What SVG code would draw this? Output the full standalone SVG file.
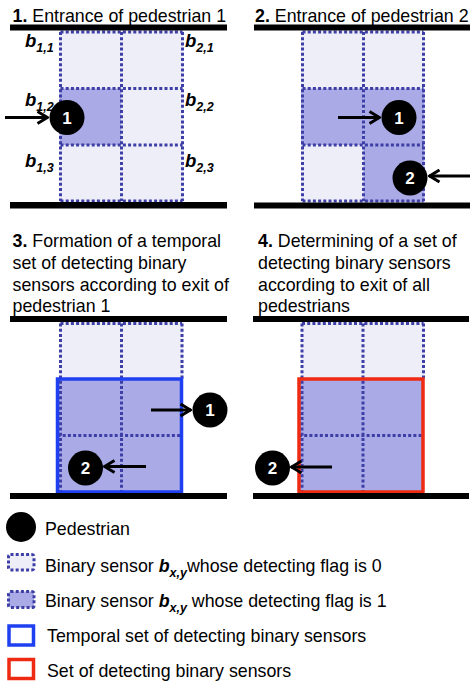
<svg xmlns="http://www.w3.org/2000/svg" width="474" height="689" viewBox="0 0 474 689">
<defs>
<style>
text{font-family:"Liberation Sans",Arial,sans-serif;fill:#000}
.t{font-size:17.8px}
.lg{font-size:17.8px}
.b{font-weight:bold}
.bi{font-weight:bold;font-style:italic}
.lab{font-size:18.5px;font-weight:bold;font-style:italic}
.sub{font-size:12.5px;font-weight:bold;font-style:italic}
.off{fill:#eeeef8}
.on{fill:#a9aae6}
.grid{fill:none;stroke:#3d3fa6;stroke-width:3;stroke-dasharray:3 2.2}
.bar{fill:#000}
.ped{fill:#000}
.pn{fill:#fff;font-size:17px;font-weight:bold;text-anchor:middle}
.arr{stroke:#000;stroke-width:3;fill:none;marker-end:url(#ah)}
.blue{fill:none;stroke:#1f40f0;stroke-width:3.5}
.red{fill:none;stroke:#ee2a12;stroke-width:3.5}
</style>
<marker id="ah" viewBox="0 0 13 15" refX="12" refY="7.5" markerWidth="13" markerHeight="15" markerUnits="userSpaceOnUse" orient="auto">
<path d="M1.5,1.5 L11.5,7.5 L1.5,13.5" fill="none" stroke="#000" stroke-width="3"/>
</marker>
</defs>
<rect width="474" height="689" fill="#fff"/>

<!-- Panel 1 -->
<g id="panel1">
<text class="t" x="12.5" y="21.5"><tspan class="b">1.</tspan> Entrance of pedestrian 1</text>
<rect class="off" x="59.5" y="30" width="62" height="58.5"/>
<rect class="off" x="121.5" y="30" width="62" height="58.5"/>
<rect class="on" x="59.5" y="88.5" width="62" height="56.5"/>
<rect class="off" x="121.5" y="88.5" width="62" height="56.5"/>
<rect class="off" x="59.5" y="145" width="62" height="57"/>
<rect class="off" x="121.5" y="145" width="62" height="57"/>
<path class="grid" d="M60.5,32 V201 M121.5,32 V201 M182.5,32 V201 M60.5,32 H182.5 M60.5,88.5 H182.5 M60.5,145 H182.5 M60.5,201 H182.5"/>
<rect class="bar" x="10" y="24.5" width="217" height="6"/>
<rect class="bar" x="10" y="202" width="217" height="6.5"/>
<g id="labels1">
<text x="25" y="46.5"><tspan class="lab">b</tspan><tspan class="sub" dy="5">1,1</tspan></text>
<text x="185" y="46.5"><tspan class="lab">b</tspan><tspan class="sub" dy="5">2,1</tspan></text>
<text x="25" y="106"><tspan class="lab">b</tspan><tspan class="sub" dy="5">1,2</tspan></text>
<text x="185" y="106"><tspan class="lab">b</tspan><tspan class="sub" dy="5">2,2</tspan></text>
<text x="25" y="167"><tspan class="lab">b</tspan><tspan class="sub" dy="5">1,3</tspan></text>
<text x="185" y="167"><tspan class="lab">b</tspan><tspan class="sub" dy="5">2,3</tspan></text>
</g>
<g id="p1-ped1"><circle class="ped" cx="67" cy="117.5" r="17.5"/><text class="pn" x="67" y="123.5">1</text></g>
</g>

<!-- Panel 2 -->
<g id="panel2">
<text class="t" x="255" y="21.5"><tspan class="b">2.</tspan> Entrance of pedestrian 2</text>
<rect class="off" x="301" y="30" width="62.5" height="58.5"/>
<rect class="off" x="363.5" y="30" width="61" height="58.5"/>
<rect class="on" x="301" y="88.5" width="62.5" height="56.5"/>
<rect class="on" x="363.5" y="88.5" width="61" height="56.5"/>
<rect class="off" x="301" y="145" width="62.5" height="57"/>
<rect class="on" x="363.5" y="145" width="61" height="57"/>
<path class="grid" d="M302.5,32 V201 M363.5,32 V201 M423.5,32 V201 M302.5,32 H423.5 M302.5,88.5 H423.5 M302.5,145 H423.5 M302.5,201 H423.5"/>
<rect class="bar" x="254" y="24.5" width="216" height="6"/>
<rect class="bar" x="254" y="202.5" width="216" height="6"/>
<g id="p2-ped1"><circle class="ped" cx="399" cy="117.5" r="17.5"/><text class="pn" x="399" y="123.5">1</text></g>
<g id="p2-ped2"><circle class="ped" cx="410" cy="178" r="17.5"/><text class="pn" x="410" y="184">2</text></g>
</g>

<!-- Panel 3 -->
<g id="panel3">
<text class="t" x="12.5" y="247"><tspan class="b">3.</tspan> Formation of a temporal</text>
<text class="t" x="12.5" y="269">set of detecting binary</text>
<text class="t" x="12.5" y="290.5">sensors according to exit of</text>
<text class="t" x="12.5" y="312">pedestrian 1</text>
<rect class="off" x="59.5" y="322" width="62" height="57"/>
<rect class="off" x="121.5" y="322" width="62" height="57"/>
<rect class="on" x="57.5" y="379" width="124" height="113"/>
<path class="grid" d="M60.5,323.5 V492 M121.5,323.5 V492 M182,323.5 V379 M60.5,323.5 H182 M57.5,435.5 H181.5"/>
<rect class="blue" x="57.5" y="379" width="124" height="113"/>
<rect class="bar" x="10" y="316" width="217" height="6"/>
<rect class="bar" x="10" y="493" width="217" height="6"/>
<g id="p3-ped1"><circle class="ped" cx="210" cy="410" r="17.5"/><text class="pn" x="210" y="416">1</text></g>
<g id="p3-ped2"><circle class="ped" cx="85.5" cy="468" r="17.5"/><text class="pn" x="85.5" y="474">2</text></g>
</g>

<!-- Panel 4 -->
<g id="panel4">
<text class="t" x="258" y="247"><tspan class="b">4.</tspan> Determining of a set of</text>
<text class="t" x="258" y="269">detecting binary sensors</text>
<text class="t" x="258" y="290.5">according to exit of all</text>
<text class="t" x="258" y="312">pedestrians</text>
<rect class="off" x="301" y="322" width="62.5" height="57"/>
<rect class="off" x="363.5" y="322" width="61" height="57"/>
<rect class="on" x="299" y="379" width="124" height="113"/>
<path class="grid" d="M302,323.5 V492 M363,323.5 V492 M423.5,323.5 V379 M302,323.5 H423.5 M299,435.5 H423"/>
<rect class="red" x="299" y="379" width="124" height="113"/>
<rect class="bar" x="253" y="316" width="216" height="6"/>
<rect class="bar" x="253" y="493" width="216" height="6"/>
<g id="p4-ped2"><circle class="ped" cx="272.5" cy="468" r="17.5"/><text class="pn" x="272.5" y="474">2</text></g>
</g>

<!-- Connectors -->
<g id="connectors">
<line class="arr" x1="5" y1="117.5" x2="48" y2="117.5"/>
<line class="arr" x1="338" y1="117.5" x2="380" y2="117.5"/>
<line class="arr" x1="470" y1="176" x2="429" y2="176"/>
<line class="arr" x1="151" y1="410" x2="191" y2="410"/>
<line class="arr" x1="146" y1="466.5" x2="104" y2="466.5"/>
<line class="arr" x1="332" y1="467" x2="291" y2="467"/>
</g>

<!-- Legend -->
<g id="legend">
<g id="lg-ped"><circle class="ped" cx="21" cy="527" r="15"/><text class="lg" x="45" y="535">Pedestrian</text></g>
<g id="lg-off"><rect class="off" x="8.5" y="554.5" width="25.5" height="15.5" rx="2"/><rect class="grid" x="8.5" y="554.5" width="25.5" height="15.5" rx="2"/>
<text class="lg" x="45" y="571.5">Binary sensor <tspan class="bi">b</tspan><tspan class="sub" dy="5">x,y</tspan><tspan dy="-5">whose detecting flag is 0</tspan></text></g>
<g id="lg-on"><rect class="on" x="8.5" y="591.5" width="25.5" height="16" rx="2"/><rect class="grid" x="8.5" y="591.5" width="25.5" height="16" rx="2"/>
<text class="lg" x="45" y="607">Binary sensor <tspan class="bi">b</tspan><tspan class="sub" dy="5">x,y</tspan><tspan dy="-5"> whose detecting flag is 1</tspan></text></g>
<g id="lg-blue"><rect class="blue" x="9" y="626" width="24.5" height="19"/>
<text class="lg" x="47" y="642">Temporal set of detecting binary sensors</text></g>
<g id="lg-red"><rect class="red" x="9" y="659.5" width="24.5" height="19"/>
<text class="lg" x="47" y="676.5">Set of detecting binary sensors</text></g>
</g>
</svg>
